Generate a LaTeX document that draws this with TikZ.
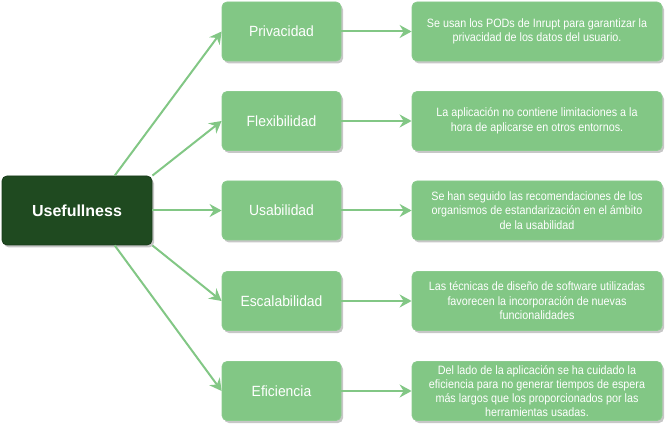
\documentclass[tikz,border=0pt]{standalone}
\usepackage{fontspec}
\setmainfont{Liberation Sans}
\newfontfamily\descfont[FakeStretch=0.89]{Liberation Sans}
\newfontfamily\midfont[FakeStretch=0.94]{Liberation Sans}
\usetikzlibrary{arrows.meta,shadows,calc}
\definecolor{lg}{HTML}{82C785}
\definecolor{lgb}{HTML}{8ACB8D}
\definecolor{dg}{HTML}{1F4A20}
\begin{document}
\begin{tikzpicture}[x=1pt,y=-1pt,
  shbox/.style={rounded corners=5pt, inner sep=0pt, align=center, text=white,
    drop shadow={shadow xshift=2pt,shadow yshift=-2.5pt,fill=black,opacity=0.22}},
  mainbox/.style={shbox, fill=dg, draw=dg!80!black, line width=0.8pt, minimum width=150pt, minimum height=69pt,
    font=\fontsize{16}{18}\selectfont\bfseries},
  midbox/.style={shbox, fill=lg, draw=lgb, line width=0.8pt, minimum width=119pt, minimum height=59pt,
    font=\midfont\fontsize{14.8}{17}\selectfont},
  descbox/.style={shbox, fill=lg, draw=lgb, line width=0.8pt, minimum width=250pt, minimum height=59pt,
    font=\descfont\fontsize{12.1}{14.5}\selectfont},
  arr/.style={draw=lg, line width=2pt, -{Stealth[length=12pt,width=13pt,inset=4pt]}}]
\useasboundingbox (0,0) rectangle (665,433);

\node[mainbox] (u) at (77,210.5) {Usefullness};

\node[midbox] (m1) at (281.5,31.5) {Privacidad};
\node[midbox] (m2) at (281.5,121) {Flexibilidad};
\node[midbox] (m3) at (281.5,210.5) {Usabilidad};
\node[midbox] (m4) at (281.5,301) {Escalabilidad};
\node[midbox] (m5) at (281.5,391) {Eficiencia};

\node[descbox] (r1) at (537,31.5) {Se usan los PODs de Inrupt para garantizar la\\privacidad de los datos del usuario.};
\node[descbox] (r2) at (537,121) {La aplicación no contiene limitaciones a la\\hora de aplicarse en otros entornos.};
\node[descbox] (r3) at (537,210.5) {Se han seguido las recomendaciones de los\\organismos de estandarización en el ámbito\\de la usabilidad};
\node[descbox] (r4) at (537,301) {Las técnicas de diseño de software utilizadas\\favorecen la incorporación de nuevas\\funcionalidades};
\node[descbox, font=\descfont\fontsize{12.1}{13.8}\selectfont] (r5) at (537,391) {Del lado de la aplicación se ha cuidado la\\eficiencia para no generar tiempos de espera\\más largos que los proporcionados por las\\herramientas usadas.};

\draw[arr] ($(u.north west)!0.75!(u.north east)$) -- (m1.west);
\draw[arr] (u.north east) -- (m2.west);
\draw[arr] (u.east) -- (m3.west);
\draw[arr] (u.south east) -- (m4.west);
\draw[arr] ($(u.south west)!0.75!(u.south east)$) -- (m5.west);

\draw[arr] (m1.east) -- (r1.west);
\draw[arr] (m2.east) -- (r2.west);
\draw[arr] (m3.east) -- (r3.west);
\draw[arr] (m4.east) -- (r4.west);
\draw[arr] (m5.east) -- (r5.west);
\end{tikzpicture}
\end{document}
